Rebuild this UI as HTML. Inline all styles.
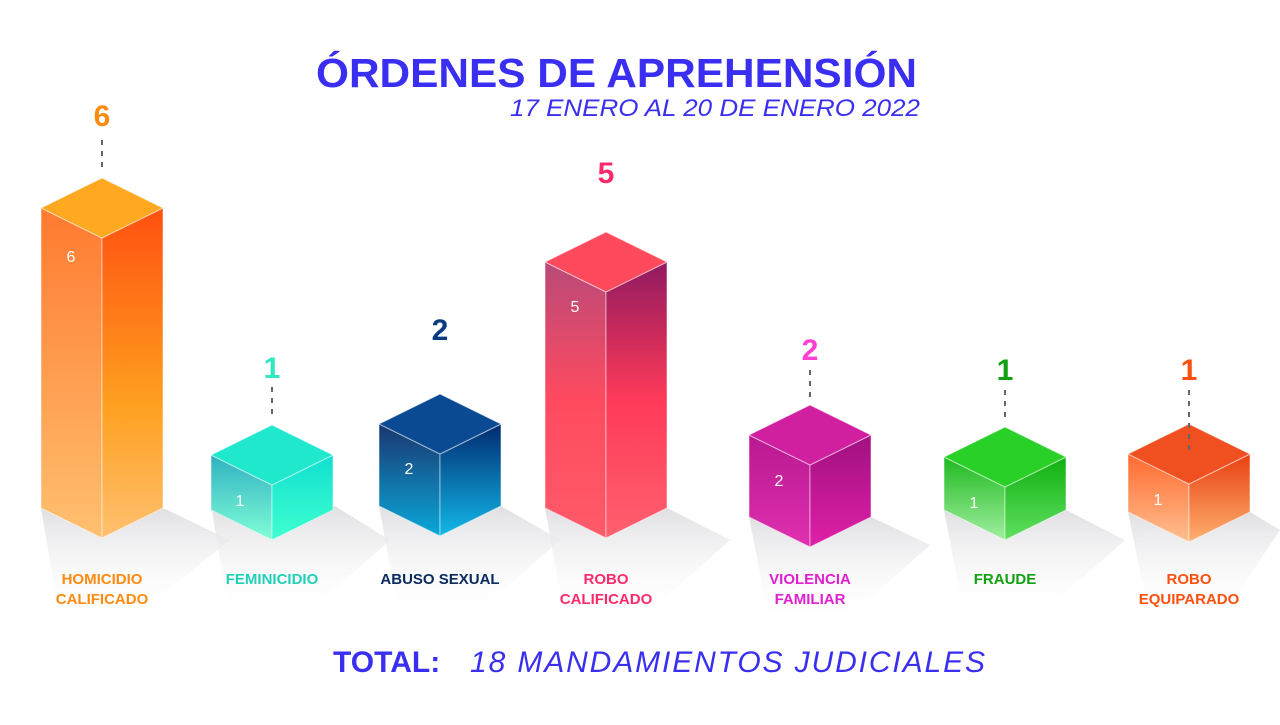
<!DOCTYPE html>
<html><head><meta charset="utf-8"><style>
body{margin:0;width:1280px;height:720px;background:#fff;overflow:hidden;font-family:"Liberation Sans",sans-serif}
</style></head><body>
<svg width="1280" height="720" viewBox="0 0 1280 720" xmlns="http://www.w3.org/2000/svg" font-family="Liberation Sans, sans-serif">
<defs>
<linearGradient id="sh" x1="0" y1="0" x2="0" y2="1"><stop offset="0" stop-color="#d8d8dc"/><stop offset="1" stop-color="#fff" stop-opacity="0"/></linearGradient>
<linearGradient id="oL" x1="0" y1="0" x2="0" y2="1"><stop offset="0" stop-color="#ff7a30"/><stop offset="1" stop-color="#ffc070"/></linearGradient>
<linearGradient id="oR" x1="0" y1="0" x2="0" y2="1"><stop offset="0" stop-color="#ff5010"/><stop offset="0.6" stop-color="#ffa020"/><stop offset="1" stop-color="#ffc070"/></linearGradient>
<linearGradient id="tL" x1="0" y1="0" x2="0" y2="1"><stop offset="0" stop-color="#30b0c0"/><stop offset="1" stop-color="#80ffd8"/></linearGradient>
<linearGradient id="tR" x1="0" y1="0" x2="0" y2="1"><stop offset="0" stop-color="#10e0d0"/><stop offset="1" stop-color="#40ffd0"/></linearGradient>
<linearGradient id="bL" x1="0" y1="0" x2="0" y2="1"><stop offset="0" stop-color="#1a3670"/><stop offset="1" stop-color="#0aa8d8"/></linearGradient>
<linearGradient id="bR" x1="0" y1="0" x2="0" y2="1"><stop offset="0" stop-color="#002a70"/><stop offset="1" stop-color="#12b8e8"/></linearGradient>
<linearGradient id="rL" x1="0" y1="0" x2="0" y2="1"><stop offset="0" stop-color="#b84a78"/><stop offset="0.5" stop-color="#ff4a60"/><stop offset="1" stop-color="#ff5a6a"/></linearGradient>
<linearGradient id="rR" x1="0" y1="0" x2="0" y2="1"><stop offset="0" stop-color="#901a60"/><stop offset="0.5" stop-color="#ff3a58"/><stop offset="1" stop-color="#ff6070"/></linearGradient>
<linearGradient id="mL" x1="0" y1="0" x2="0" y2="1"><stop offset="0" stop-color="#b81890"/><stop offset="1" stop-color="#e030b0"/></linearGradient>
<linearGradient id="mR" x1="0" y1="0" x2="0" y2="1"><stop offset="0" stop-color="#a01080"/><stop offset="1" stop-color="#e020a8"/></linearGradient>
<linearGradient id="gL" x1="0" y1="0" x2="0" y2="1"><stop offset="0" stop-color="#20b820"/><stop offset="1" stop-color="#a0f0a0"/></linearGradient>
<linearGradient id="gR" x1="0" y1="0" x2="0" y2="1"><stop offset="0" stop-color="#10b010"/><stop offset="1" stop-color="#60e060"/></linearGradient>
<linearGradient id="xL" x1="0" y1="0" x2="0" y2="1"><stop offset="0" stop-color="#ff6a30"/><stop offset="1" stop-color="#ffc090"/></linearGradient>
<linearGradient id="xR" x1="0" y1="0" x2="0" y2="1"><stop offset="0" stop-color="#e84010"/><stop offset="1" stop-color="#ffb070"/></linearGradient>
</defs>

<text x="316" y="87" font-size="41" font-weight="bold" fill="#3a2ff0" textLength="601" lengthAdjust="spacingAndGlyphs">ÓRDENES DE APREHENSIÓN</text>
<text x="510" y="116" font-size="24" font-style="italic" fill="#3a2ff0" textLength="410" lengthAdjust="spacingAndGlyphs">17 ENERO AL 20 DE ENERO 2022</text>

<g fill="url(#sh)" opacity="0.8">
<polygon points="41,508 102,538 163,508 230,540 130,620 60,620"/>
<polygon points="211,505 272,540 333,505 390,540 300,620 230,620"/>
<polygon points="379,506 440,536 501,506 560,540 470,620 400,620"/>
<polygon points="545,508 606,538 667,508 730,540 640,620 565,620"/>
<polygon points="749,517 810,547 871,517 930,545 840,625 770,625"/>
<polygon points="944,510 1005,540 1066,510 1125,540 1035,620 965,620"/>
<polygon points="1128,512 1189,542 1250,512 1280,530 1220,620 1150,620"/>
</g>

<g stroke="#fff" stroke-opacity="0.5" stroke-width="1">
<polygon points="41,208 102,238 102,538 41,508" fill="url(#oL)"/>
<polygon points="102,238 163,208 163,508 102,538" fill="url(#oR)"/>
<polygon points="102,178 163,208 102,238 41,208" fill="#ffa820"/>

<polygon points="211,455 272,485 272,540 211,510" fill="url(#tL)"/>
<polygon points="272,485 333,455 333,510 272,540" fill="url(#tR)"/>
<polygon points="272,425 333,455 272,485 211,455" fill="#20e8cc"/>

<polygon points="379,424 440,454 440,536 379,506" fill="url(#bL)"/>
<polygon points="440,454 501,424 501,506 440,536" fill="url(#bR)"/>
<polygon points="440,394 501,424 440,454 379,424" fill="#0a4a92"/>

<polygon points="545,262 606,292 606,538 545,508" fill="url(#rL)"/>
<polygon points="606,292 667,262 667,508 606,538" fill="url(#rR)"/>
<polygon points="606,232 667,262 606,292 545,262" fill="#ff4a5e"/>

<polygon points="749,435 810,465 810,547 749,517" fill="url(#mL)"/>
<polygon points="810,465 871,435 871,517 810,547" fill="url(#mR)"/>
<polygon points="810,405 871,435 810,465 749,435" fill="#d020a0"/>

<polygon points="944,457 1005,487 1005,540 944,510" fill="url(#gL)"/>
<polygon points="1005,487 1066,457 1066,510 1005,540" fill="url(#gR)"/>
<polygon points="1005,427 1066,457 1005,487 944,457" fill="#28d028"/>

<polygon points="1128,454 1189,484 1189,542 1128,512" fill="url(#xL)"/>
<polygon points="1189,484 1250,454 1250,512 1189,542" fill="url(#xR)"/>
<polygon points="1189,424 1250,454 1189,484 1128,454" fill="#f05020"/>
</g>

<g stroke="#666" stroke-width="2" stroke-dasharray="5,6">
<line x1="102" y1="140" x2="102" y2="172"/>
<line x1="272" y1="387" x2="272" y2="418"/>
<line x1="810" y1="370" x2="810" y2="398"/>
<line x1="1005" y1="390" x2="1005" y2="420"/>
<line x1="1189" y1="390" x2="1189" y2="455"/>
</g>

<g font-weight="bold" font-size="30" text-anchor="middle">
<text x="102" y="126" fill="#ff8a10">6</text>
<text x="272" y="378" fill="#30e8c0">1</text>
<text x="440" y="340" fill="#0a3a80">2</text>
<text x="606" y="183" fill="#ff2a6a">5</text>
<text x="810" y="360" fill="#ff40d0">2</text>
<text x="1005" y="380" fill="#10a010">1</text>
<text x="1189" y="380" fill="#ff5010">1</text>
</g>
<g font-size="16" fill="#fff" text-anchor="middle">
<text x="71" y="262">6</text>
<text x="240" y="506">1</text>
<text x="409" y="474">2</text>
<text x="575" y="312">5</text>
<text x="779" y="486">2</text>
<text x="974" y="508">1</text>
<text x="1158" y="505">1</text>
</g>

<g font-weight="bold" font-size="15" text-anchor="middle">
<text x="102" y="584" fill="#ff8a10">HOMICIDIO</text>
<text x="102" y="604" fill="#ff8a10">CALIFICADO</text>
<text x="272" y="584" fill="#20d0b8">FEMINICIDIO</text>
<text x="440" y="584" fill="#0a2a60">ABUSO SEXUAL</text>
<text x="606" y="584" fill="#ff2a6a">ROBO</text>
<text x="606" y="604" fill="#ff2a6a">CALIFICADO</text>
<text x="810" y="584" fill="#e020d0">VIOLENCIA</text>
<text x="810" y="604" fill="#e020d0">FAMILIAR</text>
<text x="1005" y="584" fill="#10a010">FRAUDE</text>
<text x="1189" y="584" fill="#ff5010">ROBO</text>
<text x="1189" y="604" fill="#ff5010">EQUIPARADO</text>
</g>

<text x="333" y="672" font-size="30" font-weight="bold" fill="#3a2ff0">TOTAL:</text>
<text x="470" y="672" font-size="30" font-style="italic" fill="#3a2ff0" textLength="515">18 MANDAMIENTOS JUDICIALES</text>
</svg>
</body></html>
